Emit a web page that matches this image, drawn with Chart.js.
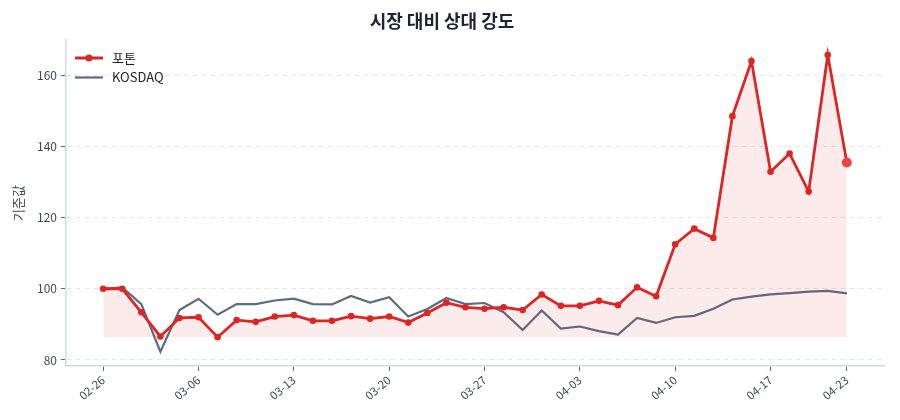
<!DOCTYPE html>
<html>
<head>
<meta charset="utf-8">
<script src="https://cdn.jsdelivr.net/npm/chart.js@4.4.1/dist/chart.umd.min.js"></script>
<style>
  html, body { margin: 0; padding: 0; background: #fff; }
  #wrap { width: 900px; height: 420px; }
</style>
</head>
<body>
<div id="wrap"><canvas id="mycanvas" width="900" height="420"></canvas></div>
<script>
// trading days (MM-DD)
var dates = ["02-26","02-27","02-28","03-04","03-05","03-06","03-07","03-10","03-11","03-12",
	"03-13","03-14","03-17","03-18","03-19","03-20","03-21","03-24","03-25","03-26",
	"03-27","03-28","03-31","04-01","04-02","04-03","04-04","04-07","04-08","04-09",
	"04-10","04-11","04-14","04-15","04-16","04-17","04-18","04-21","04-22","04-23"];
var tickDates = ["02-26","03-06","03-13","03-20","03-27","04-03","04-10","04-17","04-23"];

var photon = [100.0,100.0,93.4,86.6,91.8,92.0,86.4,91.2,90.7,92.2,
	92.6,91.0,91.0,92.3,91.6,92.2,90.5,93.2,96.1,94.8,
	94.4,94.8,94.0,98.4,95.2,95.2,96.6,95.4,100.4,97.9,
	112.5,116.9,114.3,148.5,164.0,132.9,138.0,127.3,165.7,135.5];
var kosdaq = [100.0,100.4,95.7,82.3,94.0,97.2,92.7,95.7,95.7,96.7,
	97.2,95.7,95.6,98.0,96.1,97.6,92.2,94.3,97.4,95.7,
	96.0,93.4,88.4,93.9,88.8,89.4,88.1,87.1,91.8,90.4,
	92.0,92.4,94.4,97.0,97.8,98.4,98.8,99.2,99.4,98.7];
var yTicks = [80, 100, 120, 140, 160];

var FONT = "'Noto Sans CJK KR', 'Noto Sans', sans-serif";
var RED = "#dc2626";
var SLATE = "#5b6b84";

var photonPts = [];
var kosdaqPts = [];
for (var i in dates) {
	photonPts.push({x: Number(i), y: photon[i]});
	kosdaqPts.push({x: Number(i), y: kosdaq[i]});
}
var last = dates.length - 1;
var radii = photon.map(function(v, i){ return i === last ? 5 : 3.3; });
var dotColors = photon.map(function(v, i){ return i === last ? "#ef4444" : RED; });
var fillBase = Math.min.apply(null, photon);

// legend drawn inside the plot, top-left
var innerLegend = {
	id: "innerLegend",
	afterDraw: function(chart) {
		var ctx = chart.ctx;
		var x0 = chart.chartArea.left + 9;
		var rows = [
			{label: "포톤", color: RED, width: 3, dot: true},
			{label: "KOSDAQ", color: SLATE, width: 2.2, dot: false}
		];
		ctx.save();
		ctx.font = "13px " + FONT;
		ctx.textBaseline = "middle";
		rows.forEach(function(r, k){
			var y = chart.chartArea.top + 18 + k * 19.5;
			ctx.strokeStyle = r.color;
			ctx.lineWidth = r.width;
			ctx.beginPath();
			ctx.moveTo(x0, y);
			ctx.lineTo(x0 + 28, y);
			ctx.stroke();
			if (r.dot) {
				ctx.fillStyle = r.color;
				ctx.beginPath();
				ctx.arc(x0 + 14, y, 3.5, 0, Math.PI * 2);
				ctx.fill();
			}
			ctx.fillStyle = "#222";
			ctx.fillText(r.label, x0 + 37, y);
		});
		ctx.restore();
	}
};

var ctx = document.getElementById("mycanvas");
var LineGraph = new Chart(ctx, {
	type: "line",
	data: {
		datasets: [
			{
				label: "포톤",
				data: photonPts,
				borderColor: RED,
				borderWidth: 2.8,
				backgroundColor: "rgba(220, 38, 38, 0.09)",
				fill: {value: fillBase},
				pointRadius: radii,
				pointBackgroundColor: dotColors,
				pointBorderWidth: 0,
				lineTension: 0,
				order: 1
			},
			{
				label: "KOSDAQ",
				data: kosdaqPts,
				borderColor: SLATE,
				borderWidth: 2.2,
				fill: false,
				pointRadius: 0,
				lineTension: 0,
				order: 2
			}
		]
	},
	options: {
		responsive: false,
		animation: false,
		layout: {padding: {left: 0, right: 16, top: 0, bottom: 0}},
		plugins: {
			legend: {display: false},
			tooltip: {enabled: false},
			title: {
				display: true,
				text: "시장 대비 상대 강도",
				color: "#1e2430",
				font: {family: FONT, size: 18, weight: "bold"},
				padding: {top: 10, bottom: 8.4}
			}
		},
		scales: {
			x: {
				type: "linear",
				min: -1.95,
				max: last + 1.95,
				afterBuildTicks: function(axis) {
					axis.ticks = tickDates.map(function(d){ return {value: dates.indexOf(d)}; });
				},
				afterFit: function(axis) { axis.height = 54; },
				ticks: {
					autoSkip: false,
					maxRotation: 40,
					minRotation: 40,
					color: "#404858",
					font: {family: FONT, size: 11.5},
					padding: 2,
					callback: function(value) { return dates[value]; }
				},
				grid: {
					drawOnChartArea: false,
					drawTicks: true,
					tickLength: 5,
					tickColor: "#666",
					tickWidth: 1
				},
				border: {display: true, color: "#d3d9e1", width: 1.5}
			},
			y: {
				min: 78.3,
				max: 169.9,
				afterBuildTicks: function(axis) {
					axis.ticks = yTicks.map(function(v){ return {value: v}; });
				},
				afterFit: function(axis) { axis.width = 66; },
				title: {
					display: true,
					text: "기준값",
					color: "#404858",
					font: {family: FONT, size: 13},
					padding: {top: 10, bottom: 0}
				},
				ticks: {
					color: "#404858",
					font: {family: FONT, size: 12},
					padding: 4
				},
				grid: {
					color: "#e3e6eb",
					lineWidth: 1,
					tickBorderDash: [],
					tickLength: 5,
					tickColor: "#666",
					drawTicks: true
				},
				border: {display: true, color: "#d3d9e1", width: 1.5, dash: [5, 4]}
			}
		}
	},
	plugins: [innerLegend]
});
</script>
</body>
</html>
